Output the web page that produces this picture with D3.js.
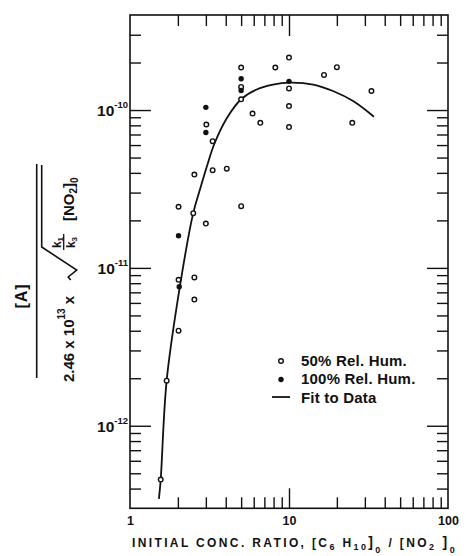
<!DOCTYPE html>
<html>
<head>
<meta charset="utf-8">
<script src="https://cdn.jsdelivr.net/npm/d3@7"></script>
<style>
  body { margin: 0; background: #fff; }
  svg { display: block; font-family: "Liberation Sans", Arial, sans-serif; font-weight: bold; }
</style>
</head>
<body>
<svg width="466" height="556"></svg>
<script>
// data: [ratio, value]
const hum50 = [
  [10, 2.15e-10], [5, 1.86e-10], [8.2, 1.86e-10], [20, 1.87e-10], [16.6, 1.67e-10],
  [10, 1.37e-10], [5, 1.40e-10], [5, 1.17e-10], [10, 1.06e-10], [33, 1.32e-10],
  [5.9, 9.5e-11], [6.6, 8.3e-11], [10, 7.8e-11], [25, 8.3e-11], [3.02, 8.1e-11],
  [3.31, 6.35e-11], [2.54, 3.9e-11], [3.31, 4.16e-11], [4.06, 4.25e-11],
  [2.02, 2.44e-11], [2.5, 2.22e-11], [3.0, 1.91e-11], [5, 2.46e-11],
  [2.02, 8.4e-12], [2.54, 8.7e-12], [2.54, 6.3e-12], [2.02, 4.0e-12],
  [1.70, 1.93e-12], [1.56, 4.56e-13]
];
const hum100 = [
  [5, 1.58e-10], [5, 1.33e-10], [10, 1.52e-10], [3, 1.04e-10], [3, 7.2e-11],
  [2.02, 1.60e-11], [2.04, 7.6e-12]
];
const fitX = [1.52, 1.56, 1.70, 2.06, 2.50, 2.76, 3.05, 3.38, 4.07, 5.0, 6.26, 7.93, 10.15, 14.2, 18.9, 25.3, 34.2];
const fitY = [3.44e-13, 4.56e-13, 1.93e-12, 7.64e-12, 2.23e-11, 3.16e-11, 4.42e-11, 6.05e-11, 8.9e-11,
              1.17e-10, 1.35e-10, 1.45e-10, 1.49e-10, 1.45e-10, 1.32e-10, 1.14e-10, 9.07e-11];

const xMajor = [10];
const xMinor = [2, 3, 4, 5, 6, 7, 8, 9, 20, 30, 40, 50, 60, 70, 80, 90];
const xLabels = [1, 10, 100];
const yMajor = [1e-12, 1e-11, 1e-10];
const yMinor = [4e-13, 5e-13, 6e-13, 7e-13, 8e-13, 9e-13,
  2e-12, 3e-12, 4e-12, 5e-12, 6e-12, 7e-12, 8e-12, 9e-12,
  2e-11, 3e-11, 4e-11, 5e-11, 6e-11, 7e-11, 8e-11, 9e-11,
  2e-10, 3e-10];
const legendItems = ["50% Rel. Hum.", "100% Rel. Hum.", "Fit to Data"];

const svg = d3.select("svg");
const x = d3.scaleLog().domain([1, 100]).range([130, 448]);
const y = d3.scaleLog().domain([3e-13, 4e-10]).range([508.3, 15]);
const [x0, x1] = x.range(), [yb, yt] = y.range();
const ink = "#111";

// ticks point inward on all four sides
function ticks(make, tx, ty, values, size) {
  svg.append("g").attr("transform", `translate(${tx},${ty})`)
    .call(make().tickValues(values).tickSize(size).tickFormat(""))
    .call(g => g.select(".domain").remove())
    .selectAll("line").attr("stroke", ink).attr("stroke-width", 1.4);
}
ticks(() => d3.axisTop(x), 0, yb, xMinor, 11);
ticks(() => d3.axisTop(x), 0, yb, xMajor, 20);
ticks(() => d3.axisBottom(x), 0, yt, xMinor, 11);
ticks(() => d3.axisBottom(x), 0, yt, xMajor, 21);
ticks(() => d3.axisRight(y), x0, 0, yMinor, 11);
ticks(() => d3.axisRight(y), x0, 0, yMajor, 21);
ticks(() => d3.axisLeft(y), x1, 0, yMinor, 11);
ticks(() => d3.axisLeft(y), x1, 0, yMajor, 21);

svg.append("rect")
  .attr("x", x0).attr("y", yt).attr("width", x1 - x0).attr("height", yb - yt)
  .attr("fill", "none").attr("stroke", ink).attr("stroke-width", 1.6);

// x tick labels
svg.append("g").attr("transform", `translate(0,${yb})`)
  .call(d3.axisBottom(x).tickValues(xLabels).tickSize(0).tickPadding(8).tickFormat(d3.format("d")))
  .call(g => g.select(".domain").remove())
  .selectAll("text").attr("fill", ink).attr("font-size", 12.5)
  .attr("font-family", "Liberation Sans, Arial, sans-serif").attr("font-weight", "bold");

// y tick labels 10^n
yMajor.forEach(v => {
  const t = svg.append("text").attr("x", x0 - 2).attr("y", y(v) + 6)
    .attr("text-anchor", "end").attr("font-size", 15.5).attr("fill", ink).text("10");
  t.append("tspan").attr("dy", -8).attr("font-size", 9.5).text(Math.round(Math.log10(v)));
});

// fit curve
const line = d3.line().x(d => x(d[0])).y(d => y(d[1])).curve(d3.curveCatmullRom);
svg.append("path").datum(fitX.map((v, i) => [v, fitY[i]]))
  .attr("d", line).attr("fill", "none").attr("stroke", ink).attr("stroke-width", 1.8);

// points
svg.append("g").selectAll("circle").data(hum50).join("circle")
  .attr("cx", d => x(d[0])).attr("cy", d => y(d[1])).attr("r", 2.3)
  .attr("fill", "#fff").attr("stroke", ink).attr("stroke-width", 1.4);
svg.append("g").selectAll("circle").data(hum100).join("circle")
  .attr("cx", d => x(d[0])).attr("cy", d => y(d[1])).attr("r", 2.7)
  .attr("fill", ink);

// legend
const lg = svg.append("g").attr("transform", "translate(281,361)");
lg.append("circle").attr("cx", 0).attr("cy", 0).attr("r", 2.3)
  .attr("fill", "#fff").attr("stroke", ink).attr("stroke-width", 1.4);
lg.append("circle").attr("cx", 0).attr("cy", 18.5).attr("r", 2.7).attr("fill", ink);
lg.append("line").attr("x1", -9).attr("x2", 9).attr("y1", 36).attr("y2", 36)
  .attr("stroke", ink).attr("stroke-width", 1.8);
lg.selectAll("text.lab").data(legendItems).join("text").attr("class", "lab")
  .attr("x", 20).attr("y", (d, i) => 5 + i * 18.3)
  .attr("font-size", 15).attr("letter-spacing", 0.2).attr("fill", ink).text(d => d);

// x axis title
const xt = svg.append("text").attr("x", 132).attr("y", 547).attr("font-size", 12).attr("fill", ink);
const parts = [
  ["INITIAL CONC. RATIO,  [C", 0, 12], ["6", 3, 9], [" H", -3, 12], ["10", 3, 9], ["]", -3, 14],
  ["0", 6, 9], [" / [NO", -6, 12], ["2", 3, 9], [" ]", -3, 14], ["0", 6, 9]
];
parts.forEach(([s, dy, fs]) => xt.append("tspan").attr("dy", dy).attr("font-size", fs).text(s));
const nChars = parts.reduce((a, p) => a + p[0].length, 0);
const natural = xt.node().getComputedTextLength();
xt.attr("letter-spacing", (325 - natural) / (nChars - 1));

// y axis title: [A] / (2.46 x 10^13 x sqrt(k1/k3) [NO2]0), rotated
const yl = svg.append("g").attr("transform", "translate(36.7,271) rotate(-90)")
  .attr("fill", ink);
yl.append("line").attr("x1", -107).attr("x2", 107).attr("y1", 0).attr("y2", 0)
  .attr("stroke", ink).attr("stroke-width", 1.6);
yl.append("text").attr("x", -25).attr("y", -10).attr("text-anchor", "middle")
  .attr("font-size", 16).attr("letter-spacing", 1).text("[A]");
const den = yl.append("text").attr("x", -111).attr("y", 37).attr("font-size", 15);
den.append("tspan").text("2.46 x 10");
den.append("tspan").attr("dy", -9).attr("font-size", 10).text("13");
den.append("tspan").attr("dy", 9).text(" x");
yl.append("path")
  .attr("d", "M-9,34 L-6,31.5 L1,40 L24,5 L106,5")
  .attr("fill", "none").attr("stroke", ink).attr("stroke-width", 1.6);
yl.append("line").attr("x1", 21).attr("x2", 37).attr("y1", 27).attr("y2", 27)
  .attr("stroke", ink).attr("stroke-width", 1.3);
const k1 = yl.append("text").attr("x", 28.5).attr("y", 24).attr("text-anchor", "middle").attr("font-size", 12);
k1.append("tspan").text("k");
k1.append("tspan").attr("dy", 2).attr("font-size", 8).text("1");
const k3 = yl.append("text").attr("x", 28.5).attr("y", 38).attr("text-anchor", "middle").attr("font-size", 12);
k3.append("tspan").text("k");
k3.append("tspan").attr("dy", 2).attr("font-size", 8).text("3");
const no2 = yl.append("text").attr("x", 50).attr("y", 37).attr("font-size", 15);
no2.append("tspan").text("[NO");
no2.append("tspan").attr("dy", 3).attr("font-size", 10).text("2");
no2.append("tspan").attr("dy", -3).text("]");
no2.append("tspan").attr("dy", 4).attr("font-size", 10).text("0");
</script>
</body>
</html>
